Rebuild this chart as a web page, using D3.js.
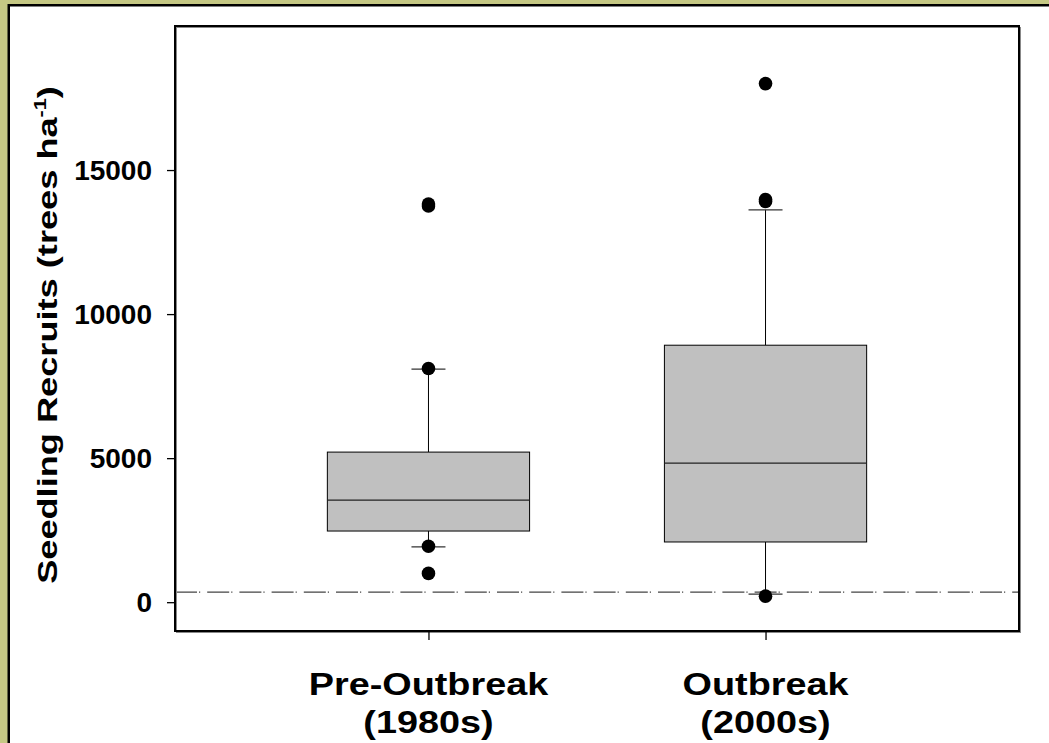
<!DOCTYPE html>
<html>
<head>
<meta charset="utf-8">
<script src="https://cdn.jsdelivr.net/npm/d3@7"></script>
<style>
  html, body { margin: 0; padding: 0; background: #ffffff; }
  svg { display: block; }
  text { font-family: Arial, "Liberation Sans", Helvetica, sans-serif; font-weight: bold; fill: #000; }
</style>
</head>
<body>
<svg id="chart" width="1049" height="743"></svg>
<script>
// Seedling recruitment before and during the outbreak
const groups = ["Pre-Outbreak (1980s)", "Outbreak (2000s)"];
const groupLines = [["Pre-Outbreak", "(1980s)"], ["Outbreak", "(2000s)"]];
const whiskerLow  = [1920, 280];
const q1          = [2470, 2090];
const medians     = [3540, 4830];
const q3          = [5210, 8920];
const whiskerHigh = [8090, 13620];
const outliers = [
  [13750, 13820, 8110, 1940, 1000],
  [18000, 13910, 13980, 210]
];
const yTicks = [0, 5000, 10000, 15000];
const referenceLevel = 350;
const yTitle = "Seedling Recruits (trees ha";
const yTitleSup = "-1";

const W = 1049, H = 743;
const plot = { left: 175, top: 26, right: 1019, bottom: 631 };

const svg = d3.select("#chart");

// Outer frame: olive strip with black rule along top and left
svg.append("rect").attr("x", 0).attr("y", 0).attr("width", W).attr("height", H).attr("fill", "#c5c884");
svg.append("rect").attr("x", 7.5).attr("y", 4).attr("width", W).attr("height", H).attr("fill", "#000");
svg.append("rect").attr("x", 10).attr("y", 6.5).attr("width", W).attr("height", H).attr("fill", "#fff");

const x = d3.scalePoint().domain(groups).range([plot.left, plot.right]).padding(0.752);
const y = d3.scaleLinear().domain([-1000, 20000]).range([plot.bottom, plot.top]);
const boxW = x.step() * 0.6;
const capW = 34;

const g = svg.append("g");

// Reference level (dash-dot)
g.append("line")
  .attr("x1", plot.left).attr("x2", plot.right)
  .attr("y1", y(referenceLevel)).attr("y2", y(referenceLevel))
  .attr("stroke", "#444").attr("stroke-width", 1.3)
  .attr("stroke-dasharray", "22,2,1.2,7");

groups.forEach((grp, i) => {
  const cx = x(grp);
  // whiskers
  g.append("line").attr("x1", cx).attr("x2", cx)
    .attr("y1", y(q3[i])).attr("y2", y(whiskerHigh[i]))
    .attr("stroke", "#000").attr("stroke-width", 1);
  g.append("line").attr("x1", cx).attr("x2", cx)
    .attr("y1", y(q1[i])).attr("y2", y(whiskerLow[i]))
    .attr("stroke", "#000").attr("stroke-width", 1);
  [whiskerHigh[i], whiskerLow[i]].forEach(v => {
    g.append("line").attr("x1", cx - capW / 2).attr("x2", cx + capW / 2)
      .attr("y1", y(v)).attr("y2", y(v))
      .attr("stroke", "#333").attr("stroke-width", 1.3);
  });
  // box
  g.append("rect")
    .attr("x", cx - boxW / 2).attr("width", boxW)
    .attr("y", y(q3[i])).attr("height", y(q1[i]) - y(q3[i]))
    .attr("fill", "#c0c0c0").attr("stroke", "#000").attr("stroke-width", 1);
  g.append("line")
    .attr("x1", cx - boxW / 2).attr("x2", cx + boxW / 2)
    .attr("y1", y(medians[i])).attr("y2", y(medians[i]))
    .attr("stroke", "#222").attr("stroke-width", 1.3);
  // outliers
  g.selectAll(null).data(outliers[i]).enter().append("circle")
    .attr("cx", cx).attr("cy", d => y(d)).attr("r", 6.8)
    .attr("fill", "#000");
});

// Plot border with light shadow
svg.append("rect")
  .attr("x", plot.left + 1.5).attr("y", plot.top + 1.5)
  .attr("width", plot.right - plot.left).attr("height", plot.bottom - plot.top)
  .attr("fill", "none").attr("stroke", "#888").attr("stroke-width", 1);
svg.append("rect")
  .attr("x", plot.left).attr("y", plot.top)
  .attr("width", plot.right - plot.left).attr("height", plot.bottom - plot.top)
  .attr("fill", "none").attr("stroke", "#000").attr("stroke-width", 2);

// Y axis ticks and labels
const yAxis = d3.axisLeft(y).tickValues(yTicks).tickSize(8).tickFormat("");
const ya = svg.append("g").attr("transform", `translate(${plot.left},0)`).call(yAxis);
ya.select(".domain").remove();
ya.selectAll(".tick line").attr("stroke", "#000").attr("stroke-width", 1.3);

svg.append("g").selectAll("text").data(yTicks).enter().append("text")
  .attr("x", plot.left - 23)
  .attr("y", d => y(d))
  .attr("dy", "0.36em")
  .attr("text-anchor", "end")
  .style("font-size", "28px")
  .text(d => d3.format("d")(d));

// X axis
const xAxis = d3.axisBottom(x).tickSize(9).tickFormat("");
const xa = svg.append("g").attr("transform", `translate(0,${plot.bottom})`).call(xAxis);
xa.select(".domain").remove();
xa.selectAll(".tick line").attr("stroke", "#000").attr("stroke-width", 1.3);

groups.forEach((grp, i) => {
  const t = svg.append("text")
    .attr("text-anchor", "middle")
    .style("font-size", "30.5px")
    .attr("transform", `translate(${x(grp)},0) scale(1.24,1)`);
  t.append("tspan").attr("x", 0).attr("y", 695).text(groupLines[i][0]);
  t.append("tspan").attr("x", 0).attr("y", 733).text(groupLines[i][1]);
});

// Y axis title (stretched along its length)
const yt = svg.append("text")
  .attr("text-anchor", "middle")
  .style("font-size", "28.5px")
  .attr("transform", `translate(57,335) scale(1,1.27) rotate(-90)`);
yt.append("tspan").text(yTitle);
yt.append("tspan").style("font-size", "17px").attr("dy", -11).text(yTitleSup);
yt.append("tspan").attr("dy", 11).text(")");
</script>
</body>
</html>
